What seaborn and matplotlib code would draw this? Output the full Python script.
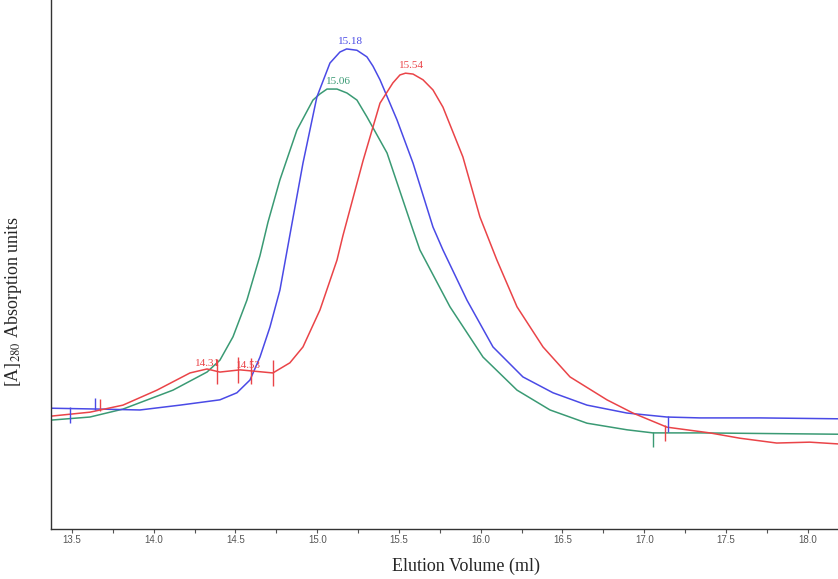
import numpy as np
import pandas as pd
import matplotlib
matplotlib.use("Agg")
import matplotlib.pyplot as plt
import seaborn as sns

# ---- data (elution volume in ml, absorbance in arbitrary units) ----
blue_x = [13.372, 13.671, 13.916, 14.161, 14.405, 14.509, 14.589, 14.650, 14.711, 14.772,
          14.833, 14.913, 14.998, 15.078, 15.139, 15.180, 15.243, 15.304, 15.341, 15.384,
          15.488, 15.586, 15.708, 15.769, 15.916, 16.075, 16.258, 16.442, 16.650, 16.895,
          17.139, 17.341, 17.708, 18.185]
blue_y = [27.4, 27.2, 27.0, 28.1, 29.3, 30.9, 33.8, 39.0, 45.8, 54.2,
          66.7, 83.0, 98.0, 105.7, 108.2, 108.9, 108.6, 107.1, 105.0, 101.9,
          92.8, 83.0, 68.5, 63.3, 51.9, 41.3, 34.5, 30.9, 28.1, 26.3,
          25.4, 25.2, 25.2, 25.0]

green_x = [13.372, 13.610, 13.812, 14.118, 14.326, 14.405, 14.485, 14.570, 14.650, 14.699,
           14.772, 14.876, 14.974, 15.017, 15.060, 15.121, 15.182, 15.243, 15.304, 15.427,
           15.586, 15.628, 15.812, 16.014, 16.222, 16.424, 16.650, 16.895, 17.053, 17.341,
           18.185]
green_y = [24.7, 25.4, 27.2, 31.5, 35.6, 38.3, 43.6, 51.9, 62.0, 69.6,
           79.2, 90.5, 97.3, 98.7, 99.8, 99.8, 98.9, 97.3, 93.5, 85.3,
           67.8, 63.3, 50.4, 39.0, 31.5, 27.0, 24.0, 22.5, 21.8, 21.8,
           21.5]

red_x = [13.372, 13.610, 13.812, 14.020, 14.222, 14.326, 14.405, 14.528, 14.729, 14.833,
         14.913, 15.017, 15.121, 15.157, 15.280, 15.384, 15.463, 15.506, 15.540, 15.586,
         15.647, 15.708, 15.769, 15.891, 15.995, 16.099, 16.222, 16.381, 16.546, 16.772,
         16.931, 17.139, 17.401, 17.584, 17.810, 18.012, 18.185]
red_y = [25.6, 26.5, 28.1, 31.5, 35.4, 36.3, 35.6, 36.1, 35.4, 37.7,
         41.3, 49.7, 61.0, 66.5, 83.5, 96.6, 101.2, 103.0, 103.4, 103.2,
         101.9, 99.6, 95.7, 84.4, 70.8, 61.0, 50.4, 41.3, 34.5, 29.3,
         26.3, 23.1, 21.8, 20.6, 19.5, 19.7, 19.3]

# peak labels
peak_labels = ["15.18", "15.06", "15.54"]
peak_pos = [15.18, 15.06, 15.54]
shoulder_labels = ["14.31", "14.53"]
shoulder_pos = [14.33, 14.58]

# integration markers (x positions, ml)
blue_marks_up = [13.641]
blue_marks_down = [13.488, 17.145]
red_marks_up = [13.671]
red_marks_mid = [14.387, 14.515, 14.595, 14.729]
red_marks_down = [17.127]
green_marks_down = [17.053]

xticks = [13.5, 14.0, 14.5, 15.0, 15.5, 16.0, 16.5, 17.0, 17.5, 18.0]

BLUE = "#4a4ae6"
GREEN = "#3a9a74"
RED = "#ea4448"

sns.set_theme(style="white")
plt.rcParams["font.family"] = ["Liberation Serif", "DejaVu Serif"]
plt.rcParams["mathtext.fontset"] = "stix"

fig = plt.figure(figsize=(8.38, 5.79), dpi=100)
ax = fig.add_axes([51 / 838, 50 / 579, 1 - 51 / 838, 529 / 579])

df = pd.concat([
    pd.DataFrame({"x": blue_x, "y": blue_y, "s": "blue"}),
    pd.DataFrame({"x": green_x, "y": green_y, "s": "green"}),
    pd.DataFrame({"x": red_x, "y": red_y, "s": "red"}),
])
sns.lineplot(data=df, x="x", y="y", hue="s", hue_order=["green", "blue", "red"],
             palette={"blue": BLUE, "green": GREEN, "red": RED},
             sort=False, estimator=None, linewidth=1.1, legend=False, ax=ax)

ax.set_xlim(13.372, 18.185)
ax.set_ylim(0, 120)

# markers
def vmarks(xs, xs_curve, ys_curve, lo, hi, color):
    for xv in xs:
        yc = np.interp(xv, xs_curve, ys_curve)
        ax.vlines(xv, yc + lo, yc + hi, color=color, linewidth=1.0)

vmarks(blue_marks_up, blue_x, blue_y, -0.3, 2.5, BLUE)
vmarks(blue_marks_down, blue_x, blue_y, -3.3, 0.3, BLUE)
vmarks(red_marks_up, red_x, red_y, -0.3, 2.5, RED)
vmarks(red_marks_mid, red_x, red_y, -2.9, 2.9, RED)
vmarks(red_marks_down, red_x, red_y, -3.3, 0.3, RED)
vmarks(green_marks_down, green_x, green_y, -3.3, 0.3, GREEN)

# peak labels
label_dx = [2.5, 8, 4.5]
for lab, px, xs, ys, col, dx in zip(peak_labels, peak_pos,
                                    [blue_x, green_x, red_x], [blue_y, green_y, red_y],
                                    [BLUE, GREEN, RED], label_dx):
    yp = np.interp(px, xs, ys)
    ax.annotate(lab, (px, yp), xytext=(dx, 2), textcoords="offset points",
                ha="center", va="bottom", color=col, fontsize=8)
for lab, px in zip(shoulder_labels, shoulder_pos):
    yp = np.interp(px, red_x, red_y)
    ax.annotate(lab, (px, yp), xytext=(0, 0.5), textcoords="offset points",
                ha="center", va="bottom", color=RED, fontsize=8)

# axes styling
for side in ["top", "right"]:
    ax.spines[side].set_visible(False)
for side in ["left", "bottom"]:
    ax.spines[side].set_color("#333333")
    ax.spines[side].set_linewidth(1.0)
ax.set_yticks([])
ax.set_xticks(xticks)
ax.set_xticklabels([f"{t:.1f}" for t in xticks], fontfamily="Liberation Sans",
                   fontsize=7, color="#555555")
ax.set_xticks(np.array(xticks[:-1]) + 0.25, minor=True)
ax.tick_params(axis="x", which="both", direction="out", length=3, width=0.8,
               color="#555555", bottom=True, pad=1.5)

ax.set_xlabel("Elution Volume (ml)", fontsize=13)
ax.xaxis.set_label_coords((466 - 51) / (838 - 51), -0.055)
ax.set_ylabel("[A]$_{280}$ Absorption units", fontsize=13)
ax.yaxis.set_label_coords(-0.034, 0.43)

fig.savefig("out.png", dpi=100)
